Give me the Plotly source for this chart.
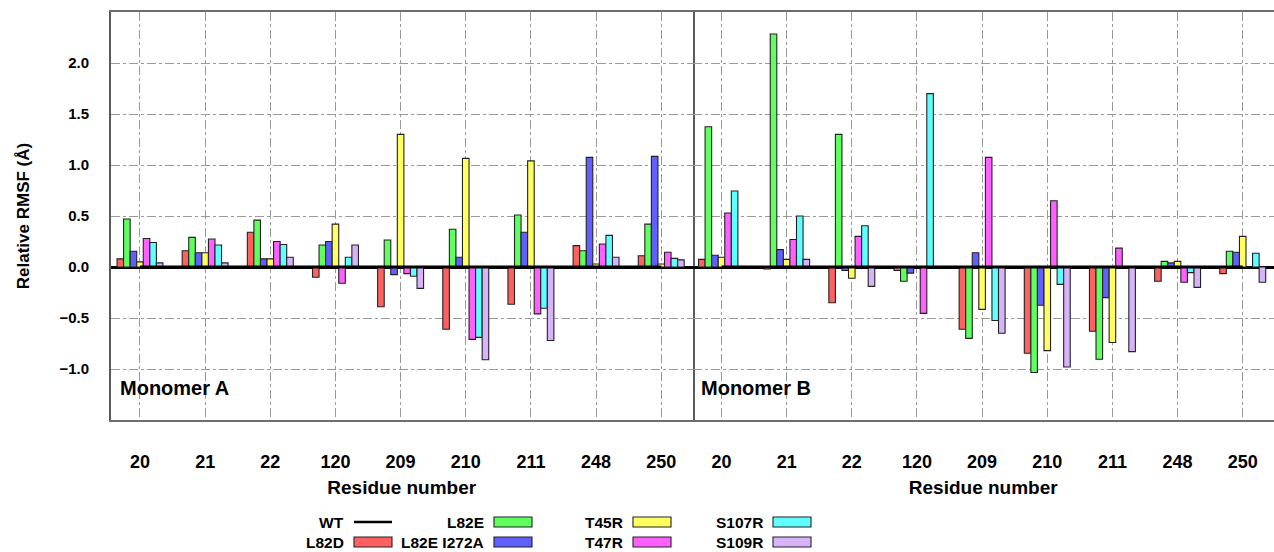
import plotly.graph_objects as go
from plotly.subplots import make_subplots

# ---------------- data ----------------
residues = ["20", "21", "22", "120", "209", "210", "211", "248", "250"]
series_names = ["WT", "L82D", "L82E", "L82E I272A", "T45R", "T47R", "S107R", "S109R"]
series_colors = ["#000000", "#ff6060", "#60ff60", "#6060ff", "#ffff60", "#ff60ff", "#60ffff", "#d7b4fa"]

WT_A = [0, 0, 0, 0, 0, 0, 0, 0, 0]
L82D_A = [0.08, 0.16, 0.34, -0.10, -0.39, -0.61, -0.365, 0.21, 0.11]
L82E_A = [0.47, 0.29, 0.46, 0.215, 0.265, 0.37, 0.51, 0.16, 0.42]
L82E_I272A_A = [0.155, 0.14, 0.08, 0.25, -0.075, 0.095, 0.34, 1.075, 1.085]
T45R_A = [0.05, 0.14, 0.08, 0.42, 1.30, 1.065, 1.04, 0.03, 0.03]
T47R_A = [0.28, 0.275, 0.25, -0.16, -0.065, -0.71, -0.46, 0.225, 0.145]
S107R_A = [0.24, 0.215, 0.22, 0.095, -0.09, -0.69, -0.405, 0.31, 0.085]
S109R_A = [0.04, 0.04, 0.095, 0.215, -0.21, -0.91, -0.72, 0.095, 0.07]

WT_B = [0, 0, 0, 0, 0, 0, 0, 0, 0]
L82D_B = [0.075, -0.02, -0.35, -0.035, -0.61, -0.845, -0.63, -0.14, -0.065]
L82E_B = [1.375, 2.285, 1.30, -0.14, -0.70, -1.035, -0.905, 0.055, 0.155]
L82E_I272A_B = [0.115, 0.17, -0.035, -0.06, 0.14, -0.375, -0.30, 0.04, 0.145]
T45R_B = [0.095, 0.075, -0.11, 0.0, -0.415, -0.82, -0.74, 0.055, 0.30]
T47R_B = [0.53, 0.27, 0.30, -0.455, 1.075, 0.65, 0.185, -0.15, 0.0]
S107R_B = [0.745, 0.50, 0.405, 1.70, -0.525, -0.17, 0.0, -0.055, 0.135]
S109R_B = [0.0, 0.075, -0.19, 0.0, -0.65, -0.98, -0.83, -0.20, -0.15]

panel_titles = ["Monomer A", "Monomer B"]
y_ticks = [-1.0, -0.5, 0.0, 0.5, 1.0, 1.5, 2.0]

panels = [
    [WT_A, L82D_A, L82E_A, L82E_I272A_A, T45R_A, T47R_A, S107R_A, S109R_A],
    [WT_B, L82D_B, L82E_B, L82E_I272A_B, T45R_B, T47R_B, S107R_B, S109R_B],
]

# ---------------- figure ----------------
FONT = "Liberation Sans, Arial, Helvetica, sans-serif"
W, H = 1274, 552
ML, MR, MT, MB = 111, 0, 12, 132
PW = W - ML - MR
PH = H - MT - MB

fig = make_subplots(rows=1, cols=2, shared_yaxes=True, horizontal_spacing=0)

xpos = list(range(len(residues)))
for p, pdata in enumerate(panels):
    col = p + 1
    for i, (name, vals) in enumerate(zip(series_names, pdata)):
        if i == 0:
            continue
        fig.add_trace(
            go.Bar(
                x=xpos, y=vals, name=name,
                marker=dict(color=series_colors[i], line=dict(color="#222222", width=1.1)),
                showlegend=False,
            ),
            row=1, col=col,
        )
    # WT reference line
    fig.add_trace(
        go.Scatter(x=xpos, y=pdata[0], mode="lines", name=series_names[0],
                   line=dict(color="black", width=3), showlegend=False, hoverinfo="skip"),
        row=1, col=col,
    )

fig.update_layout(
    width=W, height=H,
    margin=dict(l=ML, r=MR, t=MT, b=MB, pad=0),
    barmode="group", bargap=0.295, bargroupgap=0,
    plot_bgcolor="white", paper_bgcolor="white",
    showlegend=False,
    font=dict(family=FONT, color="black"),
)

fig.update_xaxes(
    range=[-0.445, 8.48],
    tickvals=xpos, ticktext=residues,
    showgrid=True, gridcolor="#9a9a9a", griddash="dashdot", gridwidth=1,
    zeroline=False,
    showline=True, mirror=True, linecolor="#6e6e6e", linewidth=1.5,
    ticks="", ticklabelstandoff=25,
    tickfont=dict(family=FONT, size=18, weight="bold"),
    title=dict(text="Residue number", font=dict(family=FONT, size=19, weight="bold"), standoff=9),
)
fig.update_yaxes(
    range=[-1.5, 2.5],
    tickvals=y_ticks, tickformat=".1f",
    showgrid=True, gridcolor="#9a9a9a", griddash="dashdot", gridwidth=1,
    zeroline=True, zerolinecolor="black", zerolinewidth=3,
    showline=True, mirror=True, linecolor="#5a5a5a", linewidth=1.8,
    ticks="", ticklabelstandoff=17,
    tickfont=dict(family=FONT, size=15, weight="bold"),
)
fig.update_yaxes(
    title=dict(text="Relative RMSF (Å)", font=dict(family=FONT, size=17, weight="bold"), standoff=26),
    row=1, col=1,
)
# right panel: no separate left/right frame lines (divider comes from panel A, right edge is cut off)
fig.update_yaxes(showline=False, mirror=False, row=1, col=2)

# panel labels
for p, txt in enumerate(panel_titles):
    xref = "x domain" if p == 0 else "x2 domain"
    fig.add_annotation(
        text=txt, xref=xref, yref="paper", x=0.012, y=(MT + PH - 388) / PH,
        xanchor="left", yanchor="middle", showarrow=False,
        font=dict(family=FONT, size=20, weight="bold", color="black"),
    )

# custom legend (label left of swatch, two rows, column-major)
def px_x(px):
    return (px - ML) / PW

def px_y(py):
    return (MT + PH - py) / PH

col_left = [354, 494, 633, 773]
row_y = [522, 542]
sw_w, sw_h = 38, 10
for i, name in enumerate(series_names):
    c, r = divmod(i, 2)
    x0 = col_left[c]
    yc = row_y[r]
    fig.add_annotation(
        text=name, xref="paper", yref="paper", x=px_x(x0 - 8), y=px_y(yc),
        xanchor="right", yanchor="middle", showarrow=False,
        font=dict(family=FONT, size=15.5, weight="bold", color="black"),
    )
    if i == 0:
        fig.add_shape(type="line", xref="paper", yref="paper",
                      x0=px_x(x0), x1=px_x(x0 + sw_w), y0=px_y(yc), y1=px_y(yc),
                      line=dict(color="black", width=2.5))
    else:
        fig.add_shape(type="rect", xref="paper", yref="paper",
                      x0=px_x(x0), x1=px_x(x0 + sw_w),
                      y0=px_y(yc - sw_h / 2), y1=px_y(yc + sw_h / 2),
                      fillcolor=series_colors[i], line=dict(color="#222222", width=1.1))

fig.write_html("out.html")
